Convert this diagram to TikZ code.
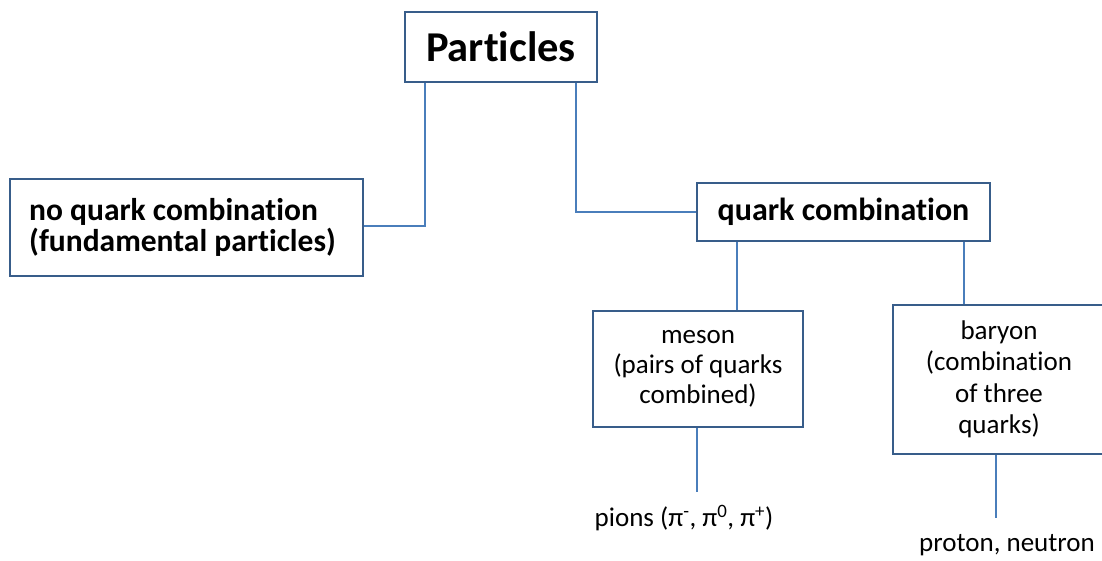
\documentclass[tikz,border=0pt]{standalone}
\usepackage{fontspec}
\setmainfont{Carlito}[Ligatures=NoCommon]
\definecolor{boxc}{RGB}{56,93,138}
\definecolor{linec}{RGB}{74,126,187}
\begin{document}
\begin{tikzpicture}[x=1pt,y=-1pt,
  box/.style={draw=boxc,line width=1.6pt,fill=white,rectangle,inner sep=0pt,align=center},
  conn/.style={draw=linec,line width=1.5pt},
  lbl/.style={inner sep=0pt,align=center}]
\useasboundingbox (0,0) rectangle (1102,560);
\node[box,minimum width=192pt,minimum height=70pt,font=\fontsize{42.5}{48}\selectfont\bfseries] (part) at (501,47) {Particles};
\node[box,minimum width=353pt,minimum height=97pt,align=left,font=\fontsize{31.5}{30.5}\selectfont\bfseries] (noq) at (186.5,227.5) {no quark combination\\(fundamental particles)\hspace*{8pt}};
\node[box,minimum width=293pt,minimum height=58pt,font=\fontsize{32}{36}\selectfont\bfseries] (qc) at (843.5,212) {quark combination};
\node[box,minimum width=210pt,minimum height=116pt,font=\fontsize{27}{30}\selectfont] (meson) at (698,369) {meson\\(pairs of quarks\\combined)};
\node[box,minimum width=212pt,minimum height=149pt,font=\fontsize{27}{31.5}\selectfont] (bary) at (999,379.5) {baryon\\(combination\\of three\\quarks)};
\node[lbl,font=\fontsize{27}{30}\selectfont] (pions) at (684,518) {pions (π\textsuperscript{-}, π\textsuperscript{0}, π\textsuperscript{+})};
\node[lbl,font=\fontsize{27}{30}\selectfont] (pn) at (1007,545) {proton, neutron};
\coordinate (pe) at (697,492);
\coordinate (be) at (996,518);
\draw[conn] ([xshift=-76pt]part.south) |- ([yshift=1.5pt]noq.east);
\draw[conn] ([xshift=75pt]part.south) |- (qc.west);
\draw[conn] ([xshift=-106.5pt]qc.south) coordinate (a) -- (a |- meson.north);
\draw[conn] ([xshift=120.5pt]qc.south) coordinate (b) -- (b |- bary.north);
\draw[conn] (meson.south -| pe) -- (pe);
\draw[conn] (bary.south -| be) -- (be);
\end{tikzpicture}
\end{document}
